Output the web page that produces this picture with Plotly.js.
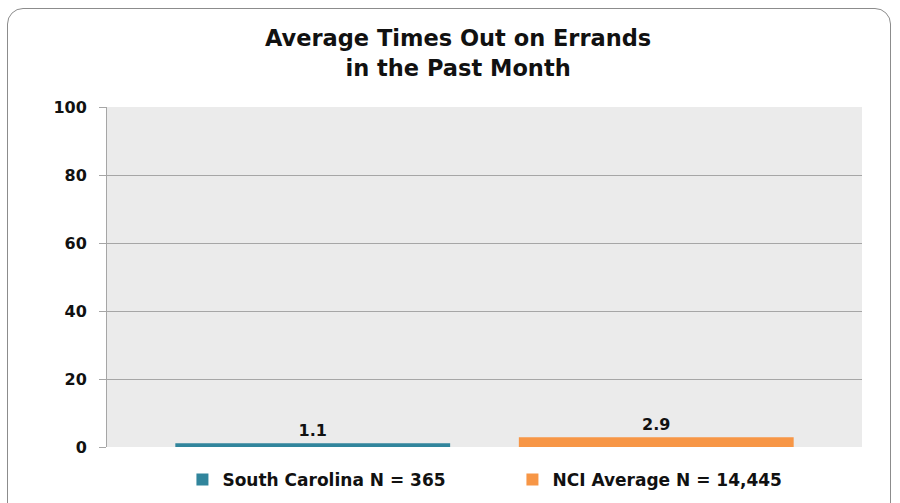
<!DOCTYPE html>
<html><head><meta charset="utf-8">
<script src="https://cdn.plot.ly/plotly-3.0.1.min.js"></script>
<style>
html,body{margin:0;padding:0;background:#fff;}
#wrap{position:relative;width:900px;height:503px;overflow:hidden;}
#chart{position:absolute;left:0;top:0;width:900px;height:503px;}
#frame{position:absolute;left:7px;top:8px;width:884px;height:520px;border:1.5px solid #8c8c8c;border-radius:16px;pointer-events:none;box-sizing:border-box;}
</style></head>
<body><div id="wrap"><div id="chart"></div><div id="frame"></div></div>
<script>
const category = ['Errands'];
const seriesNames = ['South Carolina N = 365', 'NCI Average N = 14,445'];
const scValues = [1.1];
const nciValues = [2.9];
const yTicks = [0, 20, 40, 60, 80, 100];
const colors = ['#31859c', '#f79646'];
const font = '"DejaVu Sans", Verdana, sans-serif';

const traces = [scValues, nciValues].map((vals, i) => ({
  type: 'bar', x: category, y: vals, name: seriesNames[i],
  marker: {color: colors[i]},
  text: vals.map(v => v.toFixed(1)), textposition: 'outside',
  textfont: {family: font, size: 16, color: '#111', weight: 'bold'},
  cliponaxis: false, hoverinfo: 'none'
}));

Plotly.newPlot('chart', traces, {
  width: 900, height: 503,
  margin: {l: 107, r: 38, t: 107, b: 56, autoexpand: false},
  paper_bgcolor: '#fff', plot_bgcolor: '#ebebeb',
  title: {text: '<b>Average Times Out on Errands<br>in the Past Month</b>', x: 0.509, xanchor: 'center', y: 0.9076, yanchor: 'middle',
          font: {family: font, size: 22.5, color: '#111'}},
  barmode: 'group', bargap: 0.09, bargroupgap: 0.2,
  xaxis: {showticklabels: false, showline: false, showgrid: false, zeroline: false, fixedrange: true},
  yaxis: {range: [0, 100], tickvals: yTicks, ticktext: yTicks.map(String),
          showgrid: true, gridcolor: '#a6a6a6', gridwidth: 1,
          showline: true, linecolor: '#a6a6a6', linewidth: 1,
          ticks: 'outside', ticklen: 7, tickcolor: '#a6a6a6',
          zeroline: false, ticklabelstandoff: 9,
          tickfont: {family: font, size: 16, color: '#111', weight: 'bold'}},
  showlegend: true,
  legend: {orientation: 'h', x: 0.537, xanchor: 'center', yref: 'container', y: 0.046, yanchor: 'middle',
           font: {family: font, size: 17, color: '#111', weight: 'bold'},
           itemwidth: 30, tracegroupgap: 0, traceorder: 'normal', entrywidth: 285}
}, {displayModeBar: false, staticPlot: true});
</script></body></html>
